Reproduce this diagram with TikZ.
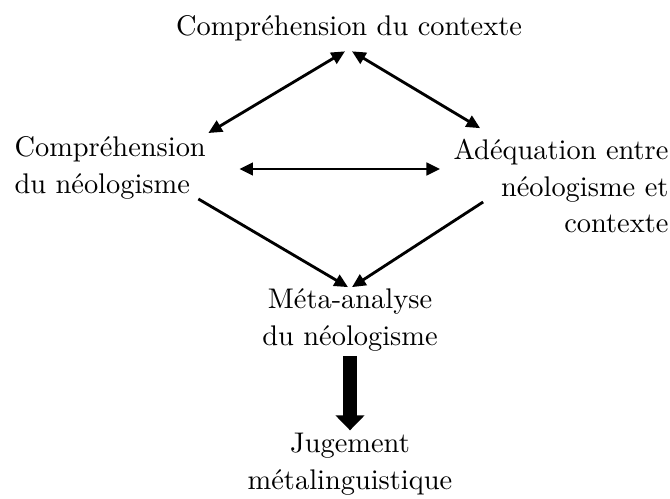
\documentclass[tikz,border=0pt]{standalone}
\usepackage{tikz}
\usetikzlibrary{arrows.meta,calc}
\tikzset{
  txt/.style={font=\fontsize{10}{13}\selectfont,inner sep=0pt},
  dbl/.style={{Triangle[length=4.8pt,width=4.4pt]}-{Triangle[length=4.8pt,width=4.4pt]},line width=1pt},
  sgl/.style={-{Triangle[length=4.8pt,width=4.4pt]},line width=1pt},
  big/.style={-{Triangle[length=5.3pt,width=10pt]},line width=5pt}
}

\begin{document}
\begin{tikzpicture}[x=0.352pt,y=-0.352pt]
  \useasboundingbox (0,0) rectangle (670,499);
  % les cinq etapes
  \node[txt] (ctx) at (349,28) {Compréhension du contexte};
  \node[txt,align=left,anchor=west] (neo) at (14,168) {Compréhension\\du néologisme};
  \node[txt,align=right,anchor=east] (adeq) at (669,186) {Adéquation entre\\néologisme et\\contexte};
  \node[txt,align=center] (meta) at (350,320) {Méta-analyse\\du néologisme};
  \node[txt,align=center] (jug) at (350,464) {Jugement\\métalinguistique};
  % liaisons
  \draw[dbl] ($(ctx.south)+(-4,10)$) -- ($(neo.north east)+(2,-3)$);
  \draw[dbl] ($(ctx.south)+(3,10)$) -- ($(adeq.north west)+(27,-10)$);
  \draw[dbl] ($(neo.east)+(33,1)$) -- ($(adeq.west)+(-13,-17)$);
  \draw[sgl] ($(neo.south east)+(-8,-1)$) -- ($(meta.north)+(-2,-1)$);
  \draw[sgl] ($(adeq.west)+(30,16)$) -- ($(meta.north)+(2,-1)$);
  \draw[big] ($(meta.south)+(0,4)$) -- ($(jug.north)+(0,-2)$);
\end{tikzpicture}
\end{document}
